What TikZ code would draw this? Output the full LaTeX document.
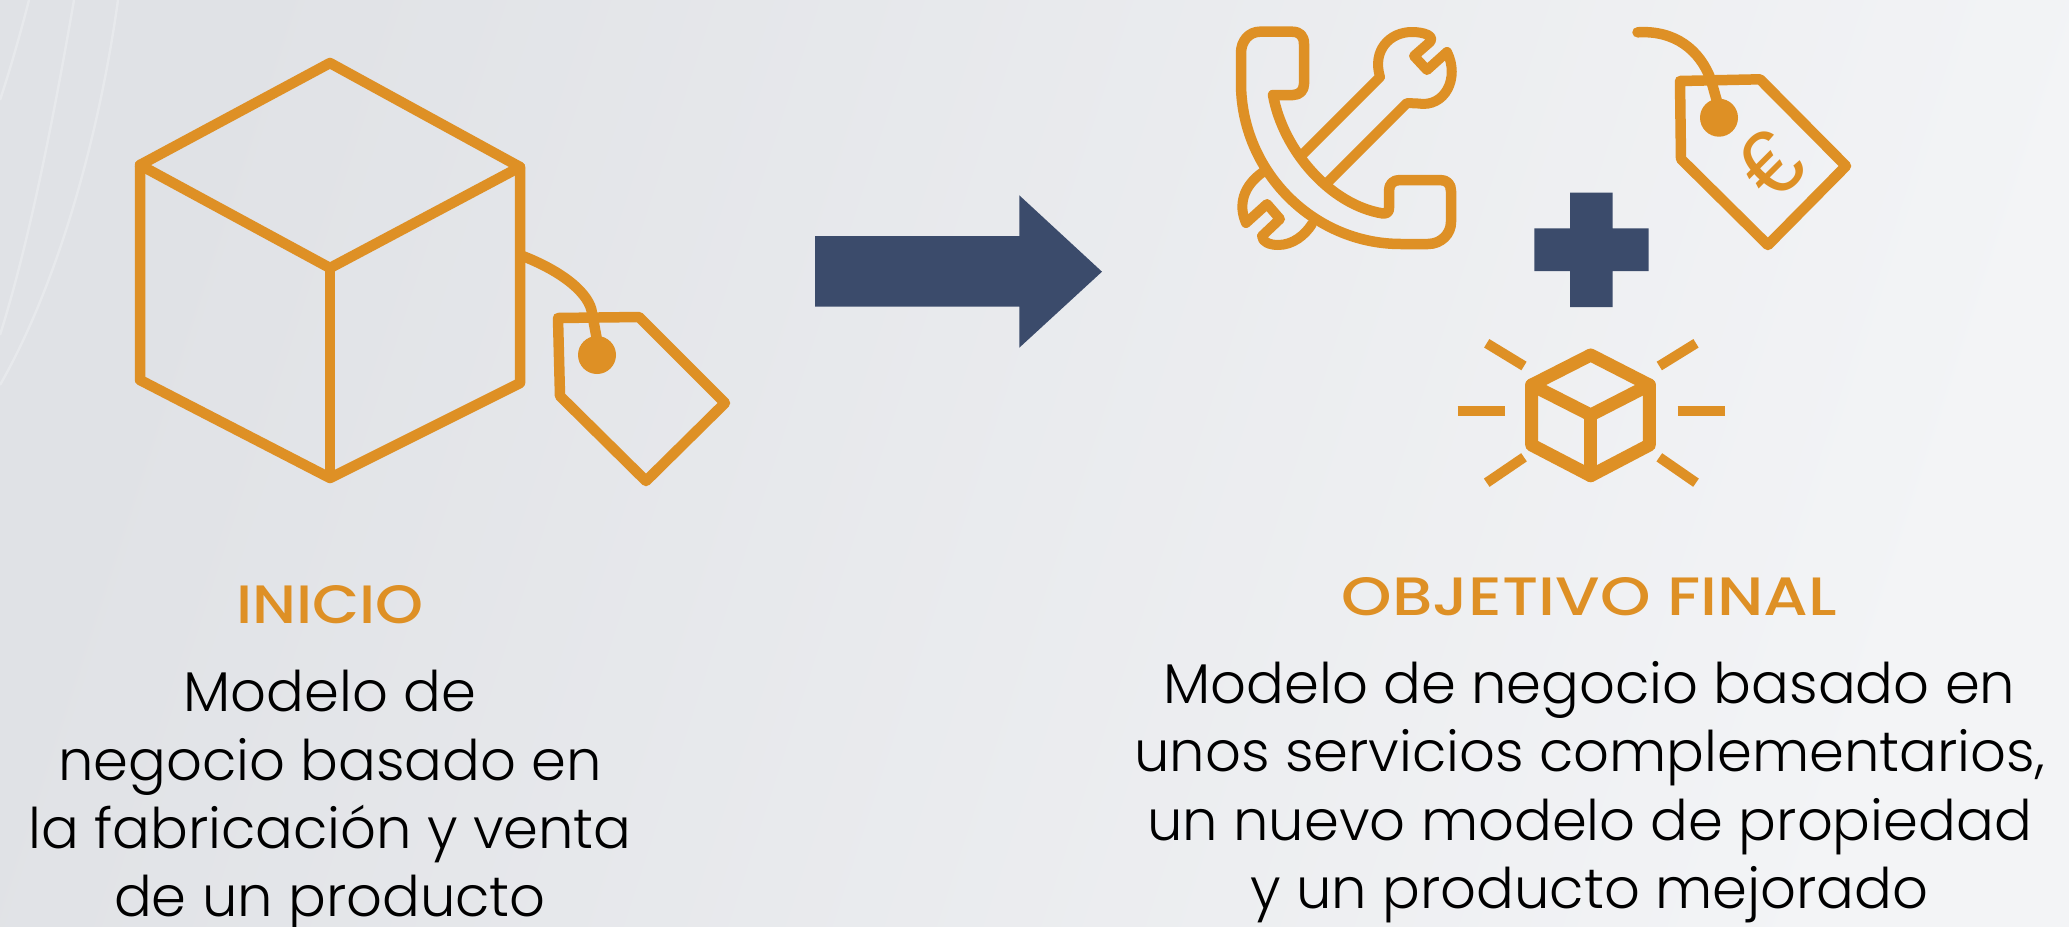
\documentclass[tikz,border=0pt]{standalone}
\usepackage{fontspec}
\setmainfont{Poppins Light}
\newfontfamily\headfont[FakeStretch=1.13]{Poppins Medium}
\newfontfamily\headwide[FakeStretch=1.19]{Poppins Medium}
\newfontfamily\eurofont{Liberation Sans}
\definecolor{ochre}{HTML}{DE9025}
\definecolor{navy}{HTML}{3B4B6B}
\definecolor{bgdark}{HTML}{E0E2E6}
\definecolor{bglight}{HTML}{F3F4F6}
\tikzset{
  px/.style={x=0.5pt,y=-0.5pt},
  icon/.style={draw=ochre,line width=#1*0.5pt,line join=round,line cap=round},
  solidshape/.style={fill=navy,draw=none},
  headtext/.style={inner sep=0pt,text=ochre,align=center,font=\headfont\fontsize{27}{34}\selectfont},
  bodytext/.style={inner sep=0pt,text=black,align=center,font=\fontsize{28}{34.15}\selectfont},
  streak/.style={draw=white,opacity=.25,line width=1.2pt}
}
\begin{document}
\begin{tikzpicture}[px]
\useasboundingbox (0,0) rectangle (2069,927);
\shade[left color=bgdark,right color=bglight,shading angle=72] (0,0) rectangle (2069,927);
\draw[streak] (29,0) .. controls (20,35) and (10,70) .. (0,100);
\draw[streak] (74,0) .. controls (55,110) and (30,240) .. (0,335);
\draw[streak] (118,0) .. controls (100,130) and (60,280) .. (0,385);
% large cube
\draw[icon=10.5] (330,63) -- (520,167) -- (520,383) -- (330,478) -- (140,380) -- (140,165) -- cycle;
\draw[icon=10.5] (140,165) -- (330,268) -- (520,167);
\draw[icon=9.5] (330,268) -- (330,478);
% large tag
\draw[icon=10.5] (558,318) -- (639,317) -- (725,403) -- (646,481) -- (560,396) -- cycle;
\draw[icon=10.5] (520,255) .. controls (565,272) and (590,295) .. (592,313) -- (597,340);
\fill[ochre] (597,355) circle[radius=19];
% arrow
\path[solidshape] (815,236) -- (1019.3,236) -- (1019.3,195.3) -- (1102,271.7) -- (1019.3,347.7) -- (1019.3,306.7) -- (815,306.7) -- cycle;
% phone
\draw[icon=10.5] (1273,95) -- (1293,95) .. controls (1300,95) and (1304,90) .. (1304,84) -- (1304,44)
 .. controls (1304,36) and (1300,31.7) .. (1292,31.7) -- (1260,31.7)
 .. controls (1249,31.7) and (1241,41) .. (1241,53) -- (1241,83)
 .. controls (1241,171) and (1313,244) .. (1401,244) -- (1428,244)
 .. controls (1441,244) and (1451,234) .. (1451,222) -- (1451,191)
 .. controls (1451,184) and (1447,180) .. (1440,180) -- (1400,180)
 .. controls (1393,180) and (1389,184) .. (1389,191) -- (1389,208)
 .. controls (1389,212) and (1387,213.5) .. (1383,213.5)
 .. controls (1330,205) and (1283,150) .. (1273,95) -- cycle;
% wrench
\draw[icon=10] (1300,157) -- (1380,77)
 .. controls (1372,50) and (1390,32) .. (1412,32)
 .. controls (1424,32) and (1435,36) .. (1430,42)
 -- (1414,56) -- (1427,70) -- (1447,52)
 .. controls (1460,78) and (1445,108) .. (1418,103.5)
 -- (1407,103) -- (1327,183);
\draw[icon=10] (1263,172) .. controls (1243,186) and (1238,205) .. (1246,223)
 -- (1267,204) -- (1280,219) -- (1262,236)
 .. controls (1262,242) and (1270,245) .. (1278,245)
 .. controls (1293,245) and (1305,235) .. (1312,224);
% price tag with euro
\draw[icon=10.5] (1680,81) -- (1760,79.3) -- (1846,166) -- (1767.9,245) -- (1681,159) -- cycle;
\draw[icon=10.5] (1637.5,32.3) .. controls (1675,30) and (1700,50) .. (1711,80) -- (1718,105);
\fill[ochre] (1719,117.7) circle[radius=19];
\node[text=ochre,inner sep=0pt,rotate=45,font=\eurofont\fontsize{46}{46}\selectfont] (euro) at (1770,165) {€};
% plus
\path[solidshape] (1570,192.7) -- (1612.7,192.7) -- (1612.7,228.3) -- (1648.7,228.3) -- (1648.7,271) -- (1612.7,271) -- (1612.7,307) -- (1570,307) -- (1570,271) -- (1534.3,271) -- (1534.3,228.3) -- (1570,228.3) -- cycle;
% small cube with rays
\draw[icon=13] (1590.7,355) -- (1649.3,385) -- (1649.3,445) -- (1590.7,475.7) -- (1531.7,445) -- (1531.7,385) -- cycle;
\draw[icon=13] (1531.7,385) -- (1590.7,415) -- (1649.3,385);
\draw[icon=13] (1590.7,415) -- (1590.7,475.7);
\foreach \a/\b/\c/\d in {1457.7/410.7/1505/410.7,1677.7/410.7/1725.3/410.7,1486.7/343.3/1524/366,1696/343.3/1659.3/366,1486.7/482.7/1524/457.3,1696/482.7/1659.3/457.3}
  \draw[draw=ochre,line width=5pt] (\a,\b) -- (\c,\d);
% texts
\node[headtext,anchor=base] (inicio) at (330,623) {INICIO};
\node[headtext,anchor=base,font=\headwide\fontsize{27}{34}\selectfont] (objetivo) at (1589.5,615) {OBJETIVO FINAL};
\node[bodytext,anchor=north] (inicioB) at (330,670) {Modelo de\\negocio basado en\\la fabricación y venta\\de un producto};
\node[bodytext,anchor=north] (objetivoB) at (1589.5,661) {Modelo de negocio basado en\\unos servicios complementarios,\\un nuevo modelo de propiedad\\y un producto mejorado};
\end{tikzpicture}
\end{document}
